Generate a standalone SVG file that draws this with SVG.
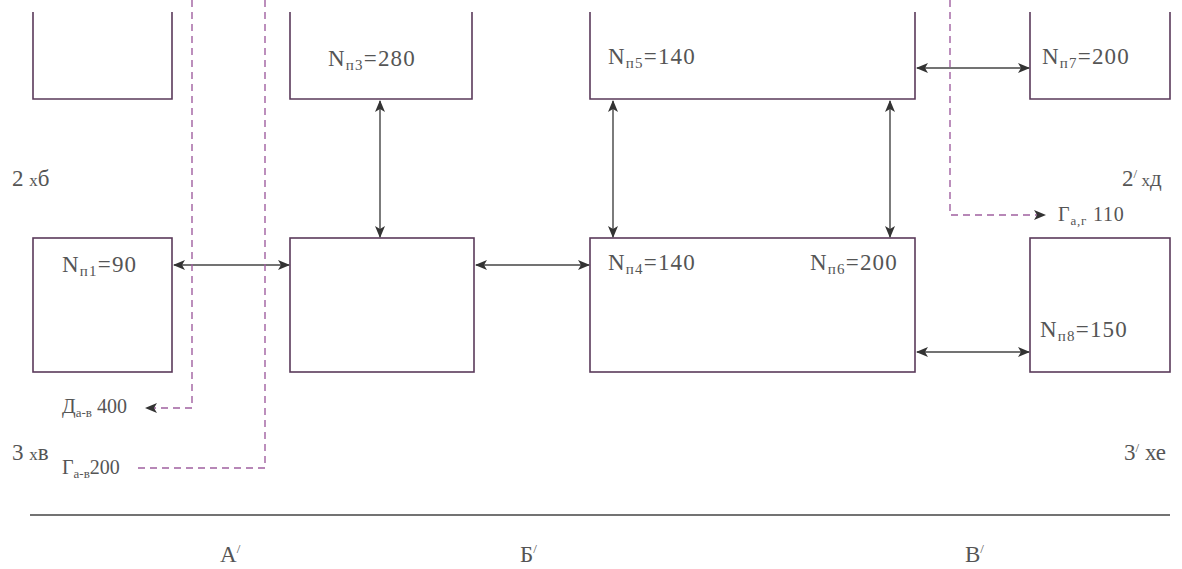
<svg xmlns="http://www.w3.org/2000/svg" width="1182" height="569" viewBox="0 0 1182 569">
<defs>
<marker id="ah" viewBox="0 0 12 10" refX="11" refY="5" markerWidth="12" markerHeight="10" markerUnits="userSpaceOnUse" orient="auto-start-reverse">
<path d="M0,0 L12,5 L0,10 L3,5 Z" fill="#333"/>
</marker>
</defs>
<style>
.box{fill:none;stroke:#5a3a5a;stroke-width:1.6}
.ln{fill:none;stroke:#444;stroke-width:1.4}
.dl{fill:none;stroke:#a060a0;stroke-width:1.4;stroke-dasharray:7 5}
.t{font-family:"Liberation Serif",serif;font-size:20px;fill:#555}
.n{font-size:23px;letter-spacing:1.2px}
.b{font-size:23px}
.s{font-size:15px}
.ss{font-size:13px}
</style>
<rect width="1182" height="569" fill="#fff"/>
<g id="box-top-left"><path class="box" d="M33,12 V99 H172 V12"/></g>
<g id="box-p3"><path class="box" d="M290,12 V99 H472 V12"/><text class="t n" x="328" y="66">N<tspan class="s" dy="4">п3</tspan><tspan dy="-4">=280</tspan></text></g>
<g id="box-p5"><path class="box" d="M590,12 V99 H915 V12"/><text class="t n" x="608" y="64">N<tspan class="s" dy="4">п5</tspan><tspan dy="-4">=140</tspan></text></g>
<g id="box-p7"><path class="box" d="M1030,12 V99 H1170 V12"/><text class="t n" x="1042" y="64">N<tspan class="s" dy="4">п7</tspan><tspan dy="-4">=200</tspan></text></g>
<g id="box-p1"><rect class="box" x="33" y="238" width="139" height="134"/><text class="t n" x="62" y="272">N<tspan class="s" dy="4">п1</tspan><tspan dy="-4">=90</tspan></text></g>
<g id="box-mid"><rect class="box" x="290" y="238" width="184" height="134"/></g>
<g id="box-p4"><rect class="box" x="590" y="238" width="325" height="134"/><text class="t n" x="608" y="270">N<tspan class="s" dy="4">п4</tspan><tspan dy="-4">=140</tspan></text><text class="t n" x="810" y="270">N<tspan class="s" dy="4">п6</tspan><tspan dy="-4">=200</tspan></text></g>
<g id="box-p8"><rect class="box" x="1030" y="238" width="140" height="134"/><text class="t n" x="1040" y="337">N<tspan class="s" dy="4">п8</tspan><tspan dy="-4">=150</tspan></text></g>
<g id="connectors">
<line class="ln" x1="380" y1="101" x2="380" y2="237" marker-start="url(#ah)" marker-end="url(#ah)"/>
<line class="ln" x1="613" y1="101" x2="613" y2="237" marker-start="url(#ah)" marker-end="url(#ah)"/>
<line class="ln" x1="890" y1="101" x2="890" y2="237" marker-start="url(#ah)" marker-end="url(#ah)"/>
<line class="ln" x1="917" y1="68" x2="1029" y2="68" marker-start="url(#ah)" marker-end="url(#ah)"/>
<line class="ln" x1="174" y1="265" x2="289" y2="265" marker-start="url(#ah)" marker-end="url(#ah)"/>
<line class="ln" x1="476" y1="265" x2="589" y2="265" marker-start="url(#ah)" marker-end="url(#ah)"/>
<line class="ln" x1="917" y1="352" x2="1029" y2="352" marker-start="url(#ah)" marker-end="url(#ah)"/>
<path class="dl" d="M192,0 V408 H146" marker-end="url(#ah)"/>
<path class="dl" d="M265,0 V468 H135"/>
<path class="dl" d="M950,0 V215 H1045" marker-end="url(#ah)"/>
</g>
<line class="ln" x1="30" y1="515" x2="1170" y2="515"/>
<text class="t" x="1058" y="221" letter-spacing="0.8">Г<tspan class="ss" dy="4">а,г</tspan><tspan dy="-4"> 110</tspan></text>
<text class="t" x="62" y="413">Д<tspan class="ss" dy="4">а-в</tspan><tspan dy="-4"> 400</tspan></text>
<text class="t" x="62" y="474">Г<tspan class="ss" dy="4">а-в</tspan><tspan dy="-4">200</tspan></text>
<text class="t b" x="12" y="186">2 <tspan font-size="17">х</tspan>б</text>
<text class="t b" x="1122" y="186">2<tspan class="ss" dy="-8">/</tspan><tspan dy="8" font-size="17"> х</tspan>д</text>
<text class="t b" x="12" y="460">3 <tspan font-size="17">х</tspan>в</text>
<text class="t b" x="1124" y="460">3<tspan class="ss" dy="-8">/</tspan><tspan dy="8"> хе</tspan></text>
<text class="t b" x="220" y="562">А<tspan class="ss" dy="-9">/</tspan></text>
<text class="t b" x="520" y="562">Б<tspan class="ss" dy="-9">/</tspan></text>
<text class="t b" x="965" y="562">В<tspan class="ss" dy="-9">/</tspan></text>
</svg>
